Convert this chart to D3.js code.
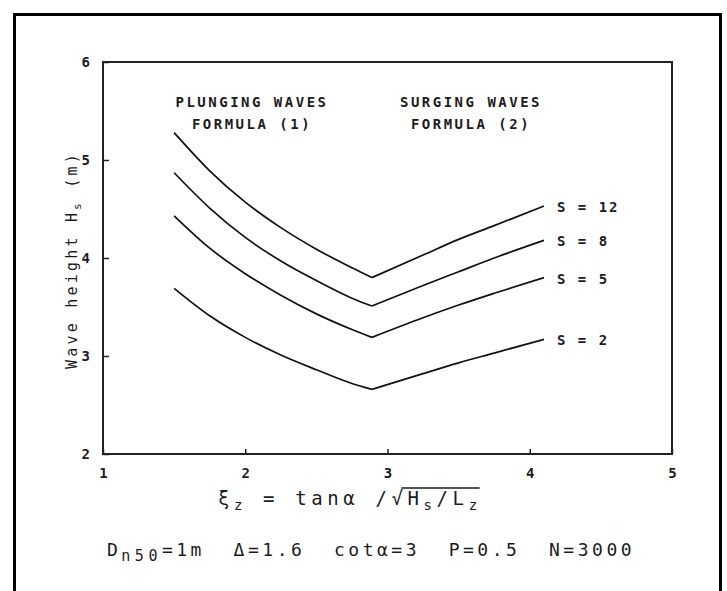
<!DOCTYPE html>
<html>
<head>
<meta charset="utf-8">
<script src="https://cdn.jsdelivr.net/npm/d3@7"></script>
<style>
  html, body { margin: 0; padding: 0; background: #fff; }
  svg { display: block; }
  text { font-family: "DejaVu Sans Mono", "Liberation Mono", monospace; fill: #1c1c1c; }
</style>
</head>
<body>
<svg id="chart" width="727" height="591"></svg>
<script>
// Surf similarity parameter (x) at which each curve is sampled.
const xiValues = [1.5, 1.75, 2.0, 2.25, 2.5, 2.75, 2.89, 3.25, 3.5, 3.75, 4.1];
// Index in xiValues where the plunging branch meets the surging branch.
const transitionIndex = 6;

// Wave height Hs (m) for each damage level S.
const seriesLabels = ["S = 12", "S = 8", "S = 5", "S = 2"];
const hsS12 = [5.28, 4.89, 4.57, 4.31, 4.09, 3.90, 3.80, 4.03, 4.19, 4.33, 4.53];
const hsS8  = [4.87, 4.51, 4.21, 3.97, 3.77, 3.59, 3.51, 3.72, 3.86, 4.00, 4.18];
const hsS5  = [4.43, 4.10, 3.84, 3.62, 3.43, 3.27, 3.19, 3.39, 3.52, 3.64, 3.80];
const hsS2  = [3.69, 3.41, 3.19, 3.01, 2.86, 2.72, 2.66, 2.82, 2.93, 3.03, 3.17];

const xTickValues = [1, 2, 3, 4, 5];
const yTickValues = [2, 3, 4, 5, 6];

const regimeLabels = [
  { lines: ["PLUNGING WAVES", "FORMULA (1)"], cx: 252 },
  { lines: ["SURGING WAVES", "FORMULA (2)"], cx: 471 }
];

const seriesValues = [hsS12, hsS8, hsS5, hsS2];

const svg = d3.select("#chart");
const plot = { left: 103, right: 672, top: 62, bottom: 454 };

const x = d3.scaleLinear().domain([1, 5]).range([plot.left, plot.right]);
const y = d3.scaleLinear().domain([2, 6]).range([plot.bottom, plot.top]);

// Outer page frame
svg.append("path")
  .attr("d", "M14.5,591 V14.5 H720.5 V591")
  .attr("fill", "none")
  .attr("stroke", "#000")
  .attr("stroke-width", 3);

// Axes: inward ticks, labels outside
const xAxis = d3.axisBottom(x).tickValues(xTickValues).tickFormat(d3.format("d"))
  .tickSizeInner(-5).tickSizeOuter(0).tickPadding(14);
const yAxis = d3.axisLeft(y).tickValues(yTickValues).tickFormat(d3.format("d"))
  .tickSizeInner(-6).tickSizeOuter(0).tickPadding(13);

const gx = svg.append("g").attr("transform", `translate(0,${plot.bottom})`).call(xAxis);
const gy = svg.append("g").attr("transform", `translate(${plot.left},0)`).call(yAxis);
[gx, gy].forEach(g => {
  g.select(".domain").remove();
  g.selectAll(".tick line").attr("stroke", "#222").attr("stroke-width", 1.5);
  g.selectAll(".tick text")
    .attr("font-size", 14)
    .attr("font-weight", "bold")
    .attr("font-family", "DejaVu Sans Mono, monospace")
    .attr("fill", "#1c1c1c");
});

// Plot frame
svg.append("rect")
  .attr("x", plot.left).attr("y", plot.top)
  .attr("width", plot.right - plot.left).attr("height", plot.bottom - plot.top)
  .attr("fill", "none").attr("stroke", "#222").attr("stroke-width", 2);

// Curves: each drawn as a plunging branch and a surging branch
const line = d3.line()
  .x(d => x(d[0]))
  .y(d => y(d[1]))
  .curve(d3.curveMonotoneX);

seriesValues.forEach((vals, i) => {
  const pts = xiValues.map((xi, k) => [xi, vals[k]]);
  const branches = [pts.slice(0, transitionIndex + 1), pts.slice(transitionIndex)];
  branches.forEach(b => {
    svg.append("path")
      .attr("d", line(b))
      .attr("fill", "none")
      .attr("stroke", "#111")
      .attr("stroke-width", 1.7);
  });
  const last = pts[pts.length - 1];
  svg.append("text")
    .attr("x", x(last[0]) + 13)
    .attr("y", y(last[1]) + 6)
    .attr("font-size", 14)
    .attr("font-weight", "bold")
    .attr("letter-spacing", 2)
    .style("white-space", "pre")
    .text(seriesLabels[i]);
});

// Regime headings
regimeLabels.forEach(r => {
  r.lines.forEach((t, k) => {
    svg.append("text")
      .attr("x", r.cx)
      .attr("y", 107 + k * 22)
      .attr("text-anchor", "middle")
      .attr("font-size", 14)
      .attr("font-weight", "bold")
      .attr("letter-spacing", 2.5)
      .text(t);
  });
});

// Y axis title
const yTitle = svg.append("text")
  .attr("transform", `translate(77,260) rotate(-90)`)
  .attr("text-anchor", "middle")
  .attr("font-size", 15)
  .attr("letter-spacing", 3.2)
  .style("white-space", "pre");
yTitle.append("tspan").text("Wave height H");
yTitle.append("tspan").attr("font-size", 11).attr("dy", 4).text("s");
yTitle.append("tspan").attr("dy", -4).text(" (m)");

// X axis title: xi_z = tan(alpha) / sqrt(Hs/Lz)
const xTitle = svg.append("text")
  .attr("x", 218).attr("y", 505)
  .attr("font-size", 19)
  .attr("letter-spacing", 4.6)
  .style("white-space", "pre");
xTitle.append("tspan").text("ξ");
xTitle.append("tspan").attr("font-size", 14).attr("dy", 5).text("z");
xTitle.append("tspan").attr("dy", -5).text(" = tanα /√");
const rootStart = xTitle.node().getComputedTextLength();
xTitle.append("tspan").text("H");
xTitle.append("tspan").attr("font-size", 14).attr("dy", 5).text("s");
xTitle.append("tspan").attr("dy", -5).text("/L");
xTitle.append("tspan").attr("font-size", 14).attr("dy", 5).text("z");
const rootEnd = xTitle.node().getComputedTextLength();

// vinculum over the radicand
svg.append("line")
  .attr("x1", 218 + rootStart - 6).attr("x2", 218 + rootEnd - 2)
  .attr("y1", 488).attr("y2", 488)
  .attr("stroke", "#1c1c1c").attr("stroke-width", 1.6);

// Parameter line
const params = svg.append("text")
  .attr("x", 107).attr("y", 556)
  .attr("font-size", 18)
  .attr("letter-spacing", 3.5)
  .style("white-space", "pre");
params.append("tspan").text("D");
params.append("tspan").attr("font-size", 15).attr("letter-spacing", 4.5).attr("dy", 5).text("n50");
params.append("tspan").attr("dy", -5).text("=1m  Δ=1.6  cotα=3  P=0.5  N=3000");
</script>
</body>
</html>
